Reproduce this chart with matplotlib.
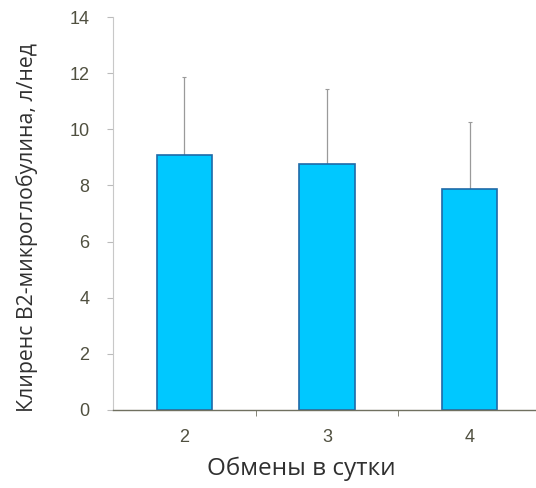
import numpy as np
import matplotlib.pyplot as plt

# exchanges per day, clearance mean and upper error
categories = ["2", "3", "4"]
means = [9.1, 8.75, 7.86]
errors = [2.76, 2.68, 2.40]
yticks = [0, 2, 4, 6, 8, 10, 12, 14]

fig = plt.figure(figsize=(5.36, 4.88), dpi=100)
ax = fig.add_axes([113 / 536, 78 / 488, 428 / 536, 393 / 488])

x = np.arange(1, len(categories) + 1)
ax.bar(x, means, width=0.39, color="#00c8ff", edgecolor="#1f6aa8", linewidth=1.2, zorder=2)
ax.errorbar(x, means, yerr=[np.zeros(len(errors)), errors], fmt="none",
            ecolor="#9a9a9a", elinewidth=0.9, capsize=1.5, capthick=0.8, zorder=1)

ax.set_xlim(0.5, 3.5)
ax.set_ylim(0, 14)
ax.set_yticks(yticks)
ax.set_xticks(x)
ax.set_xticklabels(categories)
ax.set_xticks([1.5, 2.5], minor=True)

for side in ["top", "right"]:
    ax.spines[side].set_visible(False)
ax.spines["left"].set_color("#c8c8c8")
ax.spines["left"].set_linewidth(0.8)
ax.spines["bottom"].set_color("#707060")
ax.spines["bottom"].set_linewidth(1.0)

ax.tick_params(axis="y", direction="out", length=4, color="#bbbbbb", labelsize=13,
               labelcolor="#505040", pad=13)
ax.tick_params(axis="x", which="major", length=0, labelsize=13, labelcolor="#505040", pad=14)
ax.tick_params(axis="x", which="minor", direction="out", length=4, color="#707060")
for lab in ax.get_xticklabels() + ax.get_yticklabels():
    lab.set_fontfamily("Liberation Sans")

ax.set_xlabel("Обмены в сутки", fontsize=17.5, color="#303030", family="Open Sans")
ax.set_ylabel("Клиренс В2-микроглобулина, л/нед", fontsize=15.3, color="#303030",
              family="Open Sans")
ax.xaxis.set_label_coords(0.44, -0.118)
ax.yaxis.set_label_coords(-0.176, 0.463)

fig.savefig("out.png", dpi=100)
